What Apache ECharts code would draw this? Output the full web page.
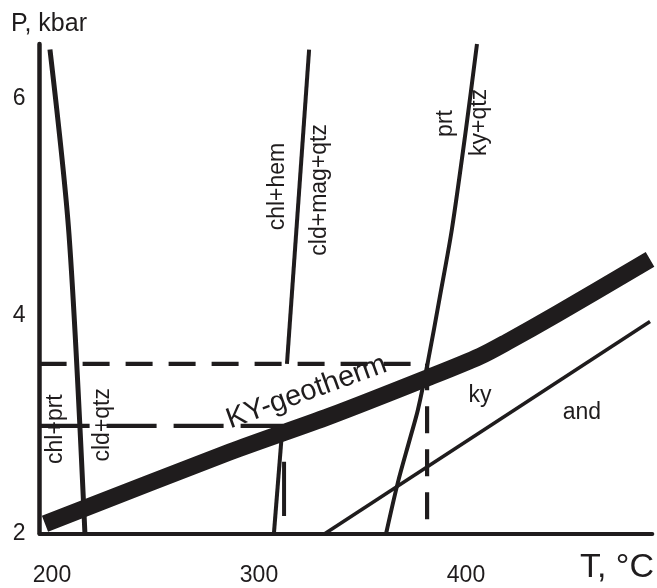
<!DOCTYPE html>
<html><head><meta charset="utf-8">
<script src="https://cdn.jsdelivr.net/npm/echarts@6/dist/echarts.min.js"></script>
<style>html,body{margin:0;padding:0;background:#fff}#c{width:657px;height:588px}</style>
</head><body><div id="c"></div>
<script>
// ---- data (T in °C, P in kbar) ----
const xTickLabels = [200, 300, 400];
const yTickLabels = [2, 4, 6];

const chlPrtBoundary = [[199.0, 6.45], [208.2, 4.75], [215.9, 2.0]];
const chlHemBoundary = [[324.2, 6.45], [313.5, 3.56]];
const lowerCldBoundary = [[311.1, 2.93], [307.2, 2.0]];
const prtKyBoundary = [[405.3, 6.50], [400.0, 5.72], [393.2, 4.80], [387.4, 4.18], [381.6, 3.58], [376.8, 3.14], [372.9, 2.87], [367.1, 2.47], [361.4, 2.0]];
const kyAndBoundary = [[331.9, 2.0], [488.9, 3.95]];
const geotherm = [[196.6, 2.09], [286.0, 2.75], [334.3, 3.08], [382.6, 3.44], [406.8, 3.63], [419.8, 3.76], [444.0, 4.02], [488.9, 4.52]];
const upperDashed = [[194, 3.56], [381.2, 3.56], [381.2, 2.0]];
const lowerDashed = [[194, 2.99], [311.6, 2.99]];
const shortDashPiece = [[312.1, 2.66], [312.1, 2.16]];

const phaseLabelTexts = ['chl+prt', 'cld+qtz', 'chl+hem', 'cld+mag+qtz', 'prt', 'ky+qtz', 'KY-geotherm', 'ky', 'and'];
const phaseLabelAnchors = [[201.9, 2.96], [224.6, 3.0], [309.2, 5.19], [329.5, 5.16], [390.3, 5.77], [406.8, 5.78], [323.0, 3.30], [406.8, 3.27], [456.0, 3.11]];

// ---- chart ----
const ink = '#1f1c1d';
const font = 'Liberation Sans, Arial, Helvetica, sans-serif';
const chart = echarts.init(document.getElementById('c'), null, {renderer: 'canvas'});

function lineSeries(data, width, dash, smooth) {
  return {
    type: 'line', data: data, showSymbol: false, symbol: 'none', silent: true,
    animation: false, z: 3, smooth: smooth || false,
    lineStyle: {color: ink, width: width, type: dash || 'solid', cap: 'butt', join: 'miter'}
  };
}

const rotationDeg = {'KY-geotherm': 20, 'ky': 0, 'and': 0};
const labelData = phaseLabelTexts.map((t, i) => [phaseLabelAnchors[i][0], phaseLabelAnchors[i][1], i]);

const option = {
  animation: false,
  backgroundColor: '#ffffff',
  title: [
    {text: 'P, kbar', left: 11, top: 12, padding: 0,
     textStyle: {fontSize: 25, fontWeight: 'normal', color: ink, fontFamily: font}},
    {text: 'T, °C', right: 3, top: 551, padding: 0,
     textStyle: {fontSize: 34, fontWeight: 'normal', color: ink, fontFamily: font}}
  ],
  grid: {left: 39.6, right: 4.7, top: 44.1, bottom: 54.5},
  xAxis: {
    type: 'value', min: 194, max: 490,
    axisLine: {show: true, onZero: false, lineStyle: {color: ink, width: 4}},
    axisTick: {show: false},
    splitLine: {show: false},
    axisLabel: {customValues: xTickLabels, margin: 31, fontSize: 23, color: ink, fontFamily: font}
  },
  yAxis: {
    type: 'value', min: 2, max: 6.5,
    axisLine: {show: true, onZero: false, lineStyle: {color: ink, width: 4.5}},
    axisTick: {show: false},
    splitLine: {show: false},
    axisLabel: {customValues: yTickLabels, margin: 14, fontSize: 23, color: ink, fontFamily: font}
  },
  series: [
    lineSeries(chlPrtBoundary, 5, null, 0.3),
    lineSeries(chlHemBoundary, 4),
    lineSeries(lowerCldBoundary, 4),
    lineSeries(prtKyBoundary, 4, null, 0.3),
    lineSeries(kyAndBoundary, 3.5),
    lineSeries(upperDashed, 4.2, [27, 16]),
    lineSeries(lowerDashed, 4.2, [50, 17]),
    lineSeries(shortDashPiece, 4),
    Object.assign(lineSeries(geotherm, 17, null, 0.3), {z: 4}),
    {
      type: 'custom', data: labelData, silent: true, z: 6,
      renderItem: function (params, api) {
        const pt = api.coord([api.value(0), api.value(1)]);
        const t = phaseLabelTexts[api.value(2)];
        const deg = rotationDeg[t] !== undefined ? rotationDeg[t] : 90;
        const size = t === 'KY-geotherm' ? 29 : 23;
        return {
          type: 'text', x: pt[0], y: pt[1], rotation: deg * Math.PI / 180,
          style: {text: t, fill: ink, font: size + 'px ' + font, align: 'center', verticalAlign: 'middle'}
        };
      }
    }
  ]
};
chart.setOption(option);
</script>
</body></html>
